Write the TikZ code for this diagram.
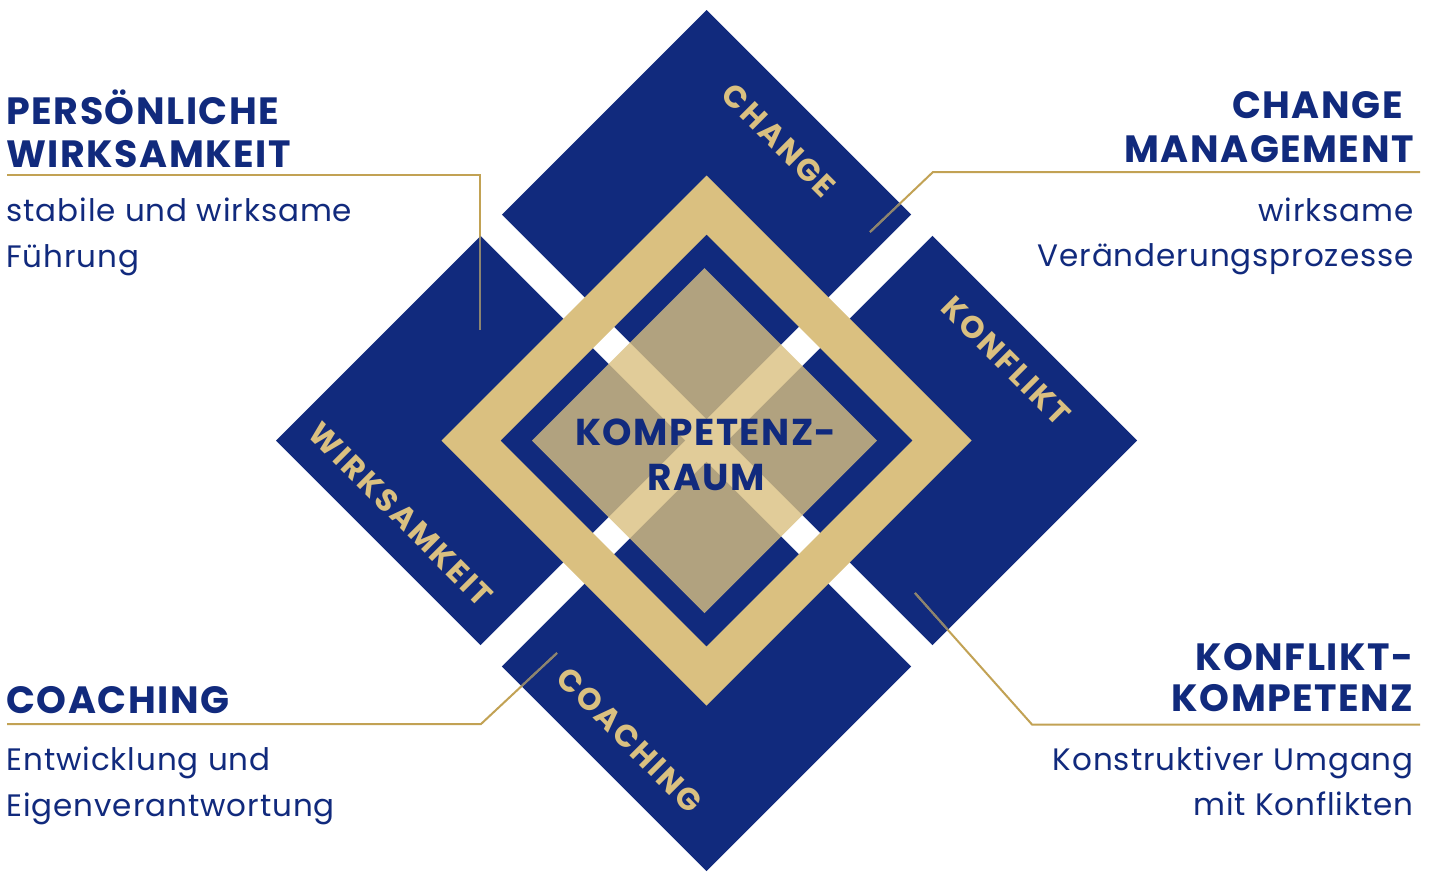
\documentclass[tikz,border=0pt]{standalone}
\usepackage{fontspec}
\setmainfont{Poppins}
\newfontfamily\labfont[LetterSpace=8]{Poppins}
\newfontfamily\headfont[LetterSpace=4]{Poppins}
\newfontfamily\bodyfont[LetterSpace=3]{Poppins}
\definecolor{navy}{RGB}{17,42,125}
\definecolor{goldf}{RGB}{218,192,128}
\definecolor{goldl}{RGB}{194,162,84}
\definecolor{linegray}{RGB}{140,132,112}
\tikzset{
  head/.style={navy, inner sep=0pt, font=\headfont\fontsize{19}{23}\selectfont\bfseries},
  body/.style={navy, inner sep=0pt, font=\bodyfont\fontsize{15.5}{19}\selectfont},
  lab/.style={goldf, inner sep=0pt, rotate=-45, font=\labfont\fontsize{15.5}{19}\selectfont\bfseries},
  ctext/.style={navy, inner sep=0pt, anchor=base, font=\headfont\fontsize{18.7}{22}\selectfont\bfseries},
  conn/.style={goldl, line width=1pt},
  conngray/.style={linegray, line width=1pt},
  gapline/.style={white, line width=15pt}
}
\begin{document}
\begin{tikzpicture}[x=0.5pt,y=-0.5pt]
\useasboundingbox (0,0) rectangle (1440,885);
\fill[white] (0,0) rectangle (1440,885);
% big navy diamond (four squares)
\fill[navy] (706.5,10) -- (1137,440.5) -- (706.5,871) -- (276,440.5) -- cycle;
% white gaps between the four squares
\draw[gapline] (471.5,205.5) -- (941.5,675.5);
\draw[gapline] (471.5,675.5) -- (941.5,205.5);
% gold frame
\fill[goldf, even odd rule] (706.5,175.5) -- (971.5,440.5) -- (706.5,705.5) -- (441.5,440.5) -- cycle
  (706.5,234.5) -- (912.5,440.5) -- (706.5,646.5) -- (500.5,440.5) -- cycle;
% translucent centre
\fill[goldf, opacity=0.8] (704.5,268) -- (877,440.5) -- (704.5,613) -- (532,440.5) -- cycle;
% centre text
\node[ctext] (kr1) at (706,445) {KOMPETENZ-};
\node[ctext] (kr2) at (706,490) {RAUM};
% labels on the squares
\node[lab] (lchange) at (779,140.5) {CHANGE};
\node[lab] (lkonf) at (1006,361) {KONFLIKT};
\node[lab] (lwirk) at (401,514) {WIRKSAMKEIT};
\node[lab] (lcoach) at (630,740) {COACHING};
% connectors
\coordinate (pl0) at (7,174.5); \coordinate (pl1) at (480,174.5); \coordinate (pl2) at (480,330);
\coordinate (pr0) at (1420,172); \coordinate (pr1) at (933,172); \coordinate (pr2) at (870,232);
\coordinate (ql0) at (7,724); \coordinate (ql1) at (481,724); \coordinate (ql2) at (557,653);
\coordinate (qr0) at (1420,724.5); \coordinate (qr1) at (1032,724.5); \coordinate (qr2) at (915,593);
\draw[conn] (pl0) -- (pl1) -- (pl2);
\draw[conn] (pr0) -- (pr1) -- (pr2);
\draw[conn] (ql0) -- (ql1) -- (ql2);
\draw[conn] (qr0) -- (qr1) -- (qr2);
\begin{scope}
  \clip (706.5,10) -- (1137,440.5) -- (706.5,871) -- (276,440.5) -- cycle;
  \draw[conngray] (pl1) -- (pl2);
  \draw[conngray] (pr1) -- (pr2);
  \draw[conngray] (ql1) -- (ql2);
  \draw[conngray] (qr1) -- (qr2);
\end{scope}
% left top
\node[head, anchor=base west] (h1a) at (6,124) {PERSÖNLICHE};
\node[head, anchor=base west] (h1b) at (6,167.3) {WIRKSAMKEIT};
\node[body, anchor=base west] (b1a) at (6,221.7) {stabile und wirksame};
\node[body, anchor=base west] (b1b) at (6,267.7) {Führung};
% right top
\node[head, anchor=base east] (h2a) at (1403,118.3) {CHANGE};
\node[head, anchor=base east] (h2b) at (1414,162.7) {MANAGEMENT};
\node[body, anchor=base east] (b2a) at (1414,221.7) {wirksame};
\node[body, anchor=base east] (b2b) at (1414,266.5) {Veränderungsprozesse};
% left bottom
\node[head, anchor=base west] (h3a) at (6,713.3) {COACHING};
\node[body, anchor=base west] (b3a) at (6,770) {Entwicklung und};
\node[body, anchor=base west] (b3b) at (6,816) {Eigenverantwortung};
% right bottom
\node[head, anchor=base east] (h4a) at (1414,670) {KONFLIKT-};
\node[head, anchor=base east] (h4b) at (1414,711.7) {KOMPETENZ};
\node[body, anchor=base east] (b4a) at (1414,770) {Konstruktiver Umgang};
\node[body, anchor=base east] (b4b) at (1414,815) {mit Konflikten};
\end{tikzpicture}
\end{document}
